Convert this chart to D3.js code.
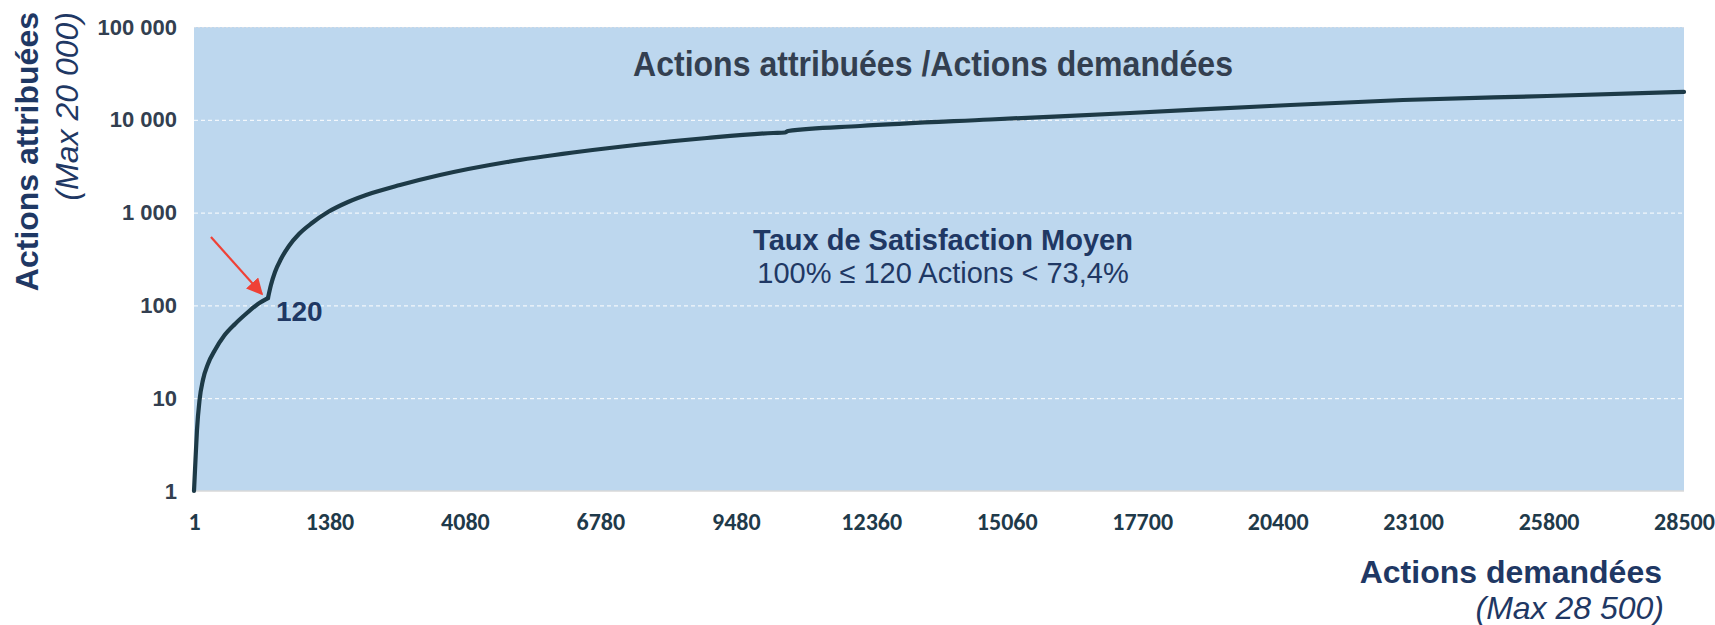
<!DOCTYPE html>
<html>
<head>
<meta charset="utf-8">
<script src="https://cdn.jsdelivr.net/npm/d3@7"></script>
<style>
  body { margin: 0; background: #fff; }
  .axis path { display: none; }
  .axis--y text { font-family: "Liberation Sans", Arial, sans-serif; font-weight: bold; font-size: 22px; fill: #333f50; }
  .axis--x text { font-family: Carlito, "Liberation Sans", sans-serif; font-weight: bold; font-size: 24px; fill: #1f3a4a; }
  .grid line { stroke: #fff; stroke-dasharray: 4,3; stroke-width: 1; }
  .grid path { display: none; }
</style>
</head>
<body>
<div id="chart"></div>
<script>
// tick labels of the x axis (category axis, evenly spaced)
var xTickLabels = ["1", "1380", "4080", "6780", "9480", "12360", "15060", "17700", "20400", "23100", "25800", "28500"];
var yTicks = [1, 10, 100, 1000, 10000, 100000];

// curve: position along the x axis (in tick intervals) and actions attribuees
// first part: up to the 120 actions threshold
var lowPos    = [0, 0.011, 0.022, 0.041, 0.066, 0.103, 0.155, 0.221, 0.303, 0.391, 0.472, 0.546];
var lowValues = [1, 2.16, 4.54, 9.56, 15.7, 23.4, 33.1, 46.8, 63.1, 82.8, 103.5, 120];
// second part: above the threshold
var highPos    = [0.546, 0.568, 0.598, 0.642, 0.701, 0.775, 0.871, 0.989, 1.137, 1.314, 1.521, 1.816, 2.311, 2.798, 3.293, 3.787, 4.275, 4.363, 4.385, 4.917, 5.877, 6.91, 7.944, 8.926, 9.989, 11];
var highValues = [120, 166, 229, 316, 437, 588, 773, 1014, 1300, 1626, 1983, 2541, 3508, 4443, 5418, 6368, 7211, 7300, 7570, 8570, 10070, 11830, 14090, 16340, 18060, 20000];

var threshold = 120;

var margin = { top: 27, right: 31, bottom: 134, left: 194 };
var W = 1715, H = 625;
var width = W - margin.left - margin.right;
var height = H - margin.top - margin.bottom;

var svg = d3.select("#chart").append("svg")
  .attr("width", W)
  .attr("height", H);

var g = svg.append("g")
  .attr("transform", "translate(" + margin.left + "," + margin.top + ")");

var x = d3.scaleLinear().domain([0, xTickLabels.length - 1]).range([0, width]);
var y = d3.scaleLog().domain([1, 100000]).range([height, 0]);

var fr = d3.formatLocale({ decimal: ",", thousands: " ", grouping: [3], currency: ["", " €"] });
var fmt = fr.format(",");

// plot background
g.append("rect")
  .attr("width", width)
  .attr("height", height)
  .attr("fill", "#bdd7ee");

// gridlines
g.append("g")
  .attr("class", "grid")
  .call(d3.axisLeft(y).tickValues(yTicks.slice(1)).tickSize(-width).tickFormat(""));
g.selectAll(".grid .tick line")
  .filter(function(d) { return d == 100000; })
  .style("stroke", "#d6dde6")
  .style("stroke-dasharray", "2,2");

// bottom line
g.append("line")
  .attr("x1", 0).attr("x2", width)
  .attr("y1", height).attr("y2", height)
  .attr("stroke", "#d9d9d9")
  .attr("stroke-width", 1.5);

// axes
g.append("g")
  .attr("class", "axis axis--y")
  .call(d3.axisLeft(y).tickValues(yTicks).tickFormat(fmt).tickSize(0).tickPadding(17));

g.append("g")
  .attr("class", "axis axis--x")
  .attr("transform", "translate(0," + height + ")")
  .call(d3.axisBottom(x).tickValues(d3.range(xTickLabels.length))
    .tickFormat(function(i) { return xTickLabels[i]; })
    .tickSize(0).tickPadding(22));

// the curve
var line = d3.line()
  .x(function(d) { return x(d[0]); })
  .y(function(d) { return y(d[1]); })
  .curve(d3.curveMonotoneX);

[d3.zip(lowPos, lowValues), d3.zip(highPos, highValues)].forEach(function(pts) {
  g.append("path")
    .datum(pts)
    .attr("d", line)
    .attr("fill", "none")
    .attr("stroke", "#1d3a47")
    .attr("stroke-width", 4.2)
    .attr("stroke-linecap", "round")
    .attr("stroke-linejoin", "round");
});

// threshold label + red arrow
var kx = x(lowPos[lowPos.length - 1]), ky = y(threshold);

g.append("text")
  .attr("x", kx + 8)
  .attr("y", ky + 23)
  .style("font-family", "Liberation Sans, Arial, sans-serif")
  .style("font-weight", "bold")
  .style("font-size", "28px")
  .style("fill", "#1f3864")
  .text(threshold);

svg.append("defs").append("marker")
  .attr("id", "arrow")
  .attr("viewBox", "0 0 10 10")
  .attr("refX", 9).attr("refY", 5)
  .attr("markerWidth", 7.5).attr("markerHeight", 7.5)
  .attr("markerUnits", "strokeWidth")
  .attr("orient", "auto")
  .append("path")
  .attr("d", "M0,0L10,5L0,10z")
  .attr("fill", "#ef4136");

g.append("line")
  .attr("x1", kx - 57).attr("y1", ky - 61)
  .attr("x2", kx - 6).attr("y2", ky - 4)
  .attr("stroke", "#ef4136")
  .attr("stroke-width", 2.2)
  .attr("marker-end", "url(#arrow)");

// chart title inside plot (narrow bold face in the original)
g.append("text")
  .attr("x", 933 - margin.left)
  .attr("y", 76 - margin.top)
  .attr("text-anchor", "middle")
  .attr("textLength", 600)
  .attr("lengthAdjust", "spacingAndGlyphs")
  .style("font-family", "Liberation Sans, Arial, sans-serif")
  .style("font-weight", "bold")
  .style("font-size", "35px")
  .style("fill", "#333f50")
  .text("Actions attribuées /Actions demandées");

// satisfaction note
var note = g.append("text")
  .attr("text-anchor", "middle")
  .style("font-family", "Liberation Sans, Arial, sans-serif")
  .style("fill", "#1f3864");
note.append("tspan")
  .attr("x", 943 - margin.left).attr("y", 250 - margin.top)
  .style("font-weight", "bold").style("font-size", "29px")
  .text("Taux de Satisfaction Moyen");
note.append("tspan")
  .attr("x", 943 - margin.left).attr("y", 283 - margin.top)
  .style("font-size", "29px")
  .text("100% ≤ 120 Actions < 73,4%");

// y axis title
var yt = svg.append("g").attr("transform", "translate(38,12) rotate(-90)");
yt.append("text")
  .attr("text-anchor", "end")
  .style("font-family", "Liberation Sans, Arial, sans-serif")
  .style("font-weight", "bold").style("font-size", "32px")
  .style("fill", "#1f3864")
  .text("Actions attribuées");
yt.append("text")
  .attr("y", 40)
  .attr("text-anchor", "end")
  .style("font-family", "Liberation Sans, Arial, sans-serif")
  .style("font-style", "italic").style("font-size", "32px")
  .style("fill", "#1f3864")
  .text("(Max 20 000)");

// x axis title
svg.append("text")
  .attr("x", 1662).attr("y", 583)
  .attr("text-anchor", "end")
  .style("font-family", "Liberation Sans, Arial, sans-serif")
  .style("font-weight", "bold").style("font-size", "32px")
  .style("fill", "#1f3864")
  .text("Actions demandées");
svg.append("text")
  .attr("x", 1664).attr("y", 619)
  .attr("text-anchor", "end")
  .style("font-family", "Liberation Sans, Arial, sans-serif")
  .style("font-style", "italic").style("font-size", "32px")
  .style("fill", "#1f3864")
  .text("(Max 28 500)");
</script>
</body>
</html>
